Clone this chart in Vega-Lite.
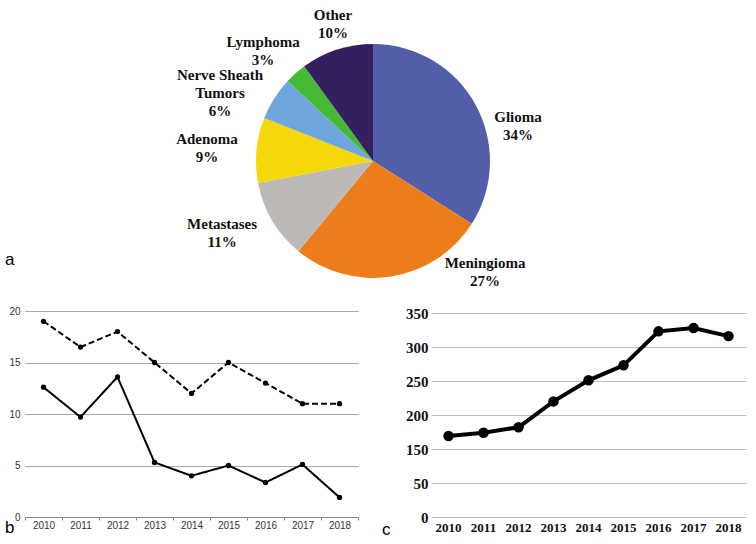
{
  "$schema": "https://vega.github.io/schema/vega-lite/v6.json",
  "padding": {"left": 5, "top": 8, "right": 2, "bottom": 0},
  "bounds": "flush",
  "spacing": 0,
  "background": "white",
  "config": {
    "view": {"stroke": null},
    "title": {"font": "Liberation Sans", "fontSize": 17, "fontWeight": "normal", "color": "#000", "anchor": "start", "frame": "group", "orient": "bottom", "offset": 0},
    "text": {"font": "Liberation Serif", "fontWeight": "bold", "fontSize": 15, "lineHeight": 18, "lineBreak": "\n", "color": "#111", "align": "center", "baseline": "top"}
  },
  "vconcat": [
    {
      "width": 696,
      "height": 300,
      "title": {"text": "a", "dx": -20, "dy": -63},
      "data": {"values": [
        {"name": "Glioma", "pct": 34, "label": "Glioma\n34%"},
        {"name": "Meningioma", "pct": 27, "label": "Meningioma\n27%"},
        {"name": "Metastases", "pct": 11, "label": "Metastases\n11%"},
        {"name": "Adenoma", "pct": 9, "label": "Adenoma\n9%"},
        {"name": "Nerve Sheath Tumors", "pct": 6, "label": "Nerve Sheath\nTumors\n6%"},
        {"name": "Lymphoma", "pct": 3, "label": "Lymphoma\n3%"},
        {"name": "Other", "pct": 10, "label": "Other\n10%"}
      ]},
      "transform": [{"window": [{"op": "row_number", "as": "ord"}]}],
      "encoding": {
        "theta": {"field": "pct", "type": "quantitative", "stack": true},
        "order": {"field": "ord", "type": "quantitative"}
      },
      "layer": [
        {
          "mark": {"type": "arc", "outerRadius": 117},
          "encoding": {
            "color": {"field": "name", "type": "nominal", "legend": null,
              "scale": {"domain": ["Glioma", "Meningioma", "Metastases", "Adenoma", "Nerve Sheath Tumors", "Lymphoma", "Other"],
                        "range": ["#525ea8", "#ec7d1a", "#bdb9b6", "#f4d80a", "#6ea6dd", "#46b936", "#341f5f"]}}
          }
        },
        {
          "transform": [{"filter": "datum.name === 'Glioma'"}],
          "mark": {"type": "text", "radius": 153.7, "thetaOffset": 0.164},
          "encoding": {"text": {"field": "label", "type": "nominal"}}
        },
        {
          "transform": [{"filter": "datum.name === 'Meningioma'"}],
          "mark": {"type": "text", "radius": 147, "thetaOffset": 1.426},
          "encoding": {"text": {"field": "label", "type": "nominal"}}
        },
        {
          "transform": [{"filter": "datum.name === 'Metastases'"}],
          "mark": {"type": "text", "radius": 161, "thetaOffset": 4.011},
          "encoding": {"text": {"field": "label", "type": "nominal"}}
        },
        {
          "transform": [{"filter": "datum.name === 'Adenoma'"}],
          "mark": {"type": "text", "radius": 168.5, "thetaOffset": 4.602},
          "encoding": {"text": {"field": "label", "type": "nominal"}}
        },
        {
          "transform": [{"filter": "datum.name === 'Nerve Sheath Tumors'"}],
          "mark": {"type": "text", "radius": 179, "thetaOffset": 5.070},
          "encoding": {"text": {"field": "label", "type": "nominal"}}
        },
        {
          "transform": [{"filter": "datum.name === 'Lymphoma'"}],
          "mark": {"type": "text", "radius": 167.3, "thetaOffset": 5.472},
          "encoding": {"text": {"field": "label", "type": "nominal"}}
        },
        {
          "transform": [{"filter": "datum.name === 'Other'"}],
          "mark": {"type": "text", "radius": 158, "thetaOffset": 5.713},
          "encoding": {"text": {"field": "label", "type": "nominal"}}
        }
      ]
    },
    {
      "hconcat": [
        {
          "width": 333,
          "height": 206,
          "title": {"text": "b", "dx": -20, "dy": -14},
          "data": {"values": [
            {"year": "2010", "series": "dashed", "value": 19},
            {"year": "2011", "series": "dashed", "value": 16.5},
            {"year": "2012", "series": "dashed", "value": 18},
            {"year": "2013", "series": "dashed", "value": 15},
            {"year": "2014", "series": "dashed", "value": 12},
            {"year": "2015", "series": "dashed", "value": 15},
            {"year": "2016", "series": "dashed", "value": 13},
            {"year": "2017", "series": "dashed", "value": 11},
            {"year": "2018", "series": "dashed", "value": 11},
            {"year": "2010", "series": "solid", "value": 12.6},
            {"year": "2011", "series": "solid", "value": 9.7},
            {"year": "2012", "series": "solid", "value": 13.6},
            {"year": "2013", "series": "solid", "value": 5.3},
            {"year": "2014", "series": "solid", "value": 4.0},
            {"year": "2015", "series": "solid", "value": 5.0},
            {"year": "2016", "series": "solid", "value": 3.35},
            {"year": "2017", "series": "solid", "value": 5.1},
            {"year": "2018", "series": "solid", "value": 1.9}
          ]},
          "encoding": {
            "x": {"field": "year", "type": "ordinal",
              "scale": {"type": "band", "paddingInner": 0, "paddingOuter": 0},
              "axis": {"title": null, "labelAngle": 0, "tickBand": "extent", "tickSize": 3, "tickColor": "#888", "domainColor": "#888", "labelFont": "Liberation Sans", "labelFontSize": 10, "labelColor": "#333", "labelPadding": 0, "grid": false}},
            "y": {"field": "value", "type": "quantitative",
              "scale": {"domain": [0, 20], "nice": false},
              "axis": {"title": null, "values": [0, 5, 10, 15, 20], "domain": false, "ticks": false, "gridColor": "#a8a8a8", "labelPadding": 5, "labelFont": "Liberation Sans", "labelFontSize": 10, "labelColor": "#333"}}
          },
          "layer": [
            {
              "mark": {"type": "line", "color": "black", "strokeWidth": 2},
              "encoding": {"strokeDash": {"field": "series", "type": "nominal", "legend": null, "scale": {"domain": ["dashed", "solid"], "range": [[6, 3], [1, 0]]}}}
            },
            {
              "mark": {"type": "point", "filled": true, "color": "black", "size": 28, "opacity": 1},
              "encoding": {"detail": {"field": "series", "type": "nominal"}}
            }
          ]
        },
        {
          "width": 315,
          "height": 206,
          "title": {"text": "c", "dx": -49, "dy": -16},
          "data": {"values": [
            {"year": "2010", "n": 169},
            {"year": "2011", "n": 174},
            {"year": "2012", "n": 182},
            {"year": "2013", "n": 220},
            {"year": "2014", "n": 251},
            {"year": "2015", "n": 273},
            {"year": "2016", "n": 323},
            {"year": "2017", "n": 328},
            {"year": "2018", "n": 316}
          ]},
          "encoding": {
            "x": {"field": "year", "type": "ordinal",
              "scale": {"type": "band", "paddingInner": 0, "paddingOuter": 0},
              "axis": {"title": null, "labelAngle": 0, "ticks": false, "domain": false, "grid": false, "labelFont": "Liberation Serif", "labelFontWeight": "bold", "labelFontSize": 13, "labelColor": "#111", "labelPadding": 4}},
            "y": {"field": "n", "type": "quantitative",
              "scale": {"domain": [0, 50, 150, 350], "range": [206, 172, 138, 2], "nice": false, "zero": false},
              "axis": {"title": null, "values": [0, 50, 150, 200, 250, 300, 350], "domain": false, "ticks": false, "gridColor": "#bdbdbd", "labelFont": "Liberation Serif", "labelFontWeight": "bold", "labelFontSize": 15, "labelColor": "#111", "labelPadding": 3}}
          },
          "layer": [
            {"mark": {"type": "line", "color": "black", "strokeWidth": 4}},
            {"mark": {"type": "point", "filled": true, "color": "black", "size": 110, "opacity": 1}}
          ]
        }
      ],
      "spacing": 73,
      "bounds": "flush"
    }
  ]
}
